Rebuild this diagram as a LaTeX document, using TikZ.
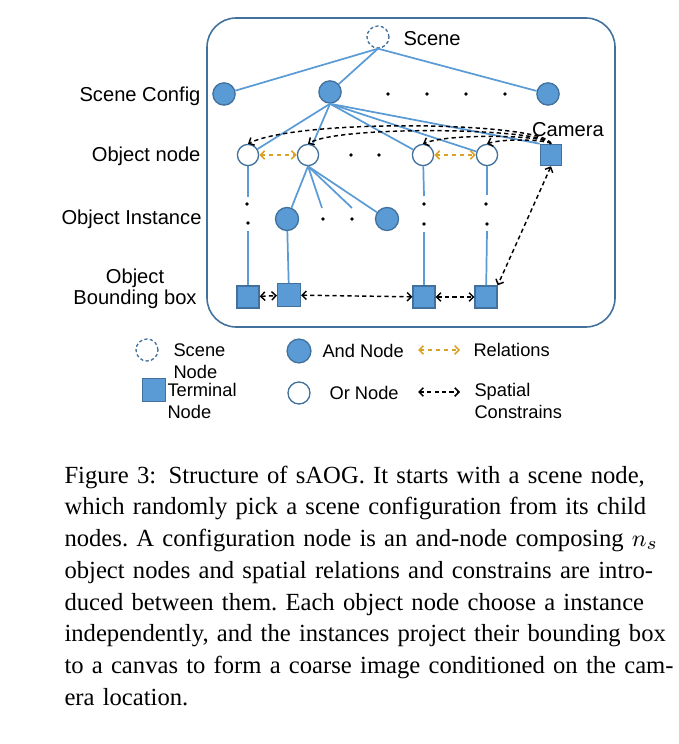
\documentclass[tikz,border=0pt]{standalone}
\usepackage{fontspec}
\setmainfont{Liberation Serif}
\newfontfamily\diagfont{Liberation Sans}
\usetikzlibrary{arrows.meta,positioning}

\definecolor{andfill}{RGB}{91,155,213}
\definecolor{nodeedge}{RGB}{65,113,156}
\definecolor{treeline}{RGB}{91,155,213}
\definecolor{relcolor}{RGB}{218,163,38}
\newlength\capw
\setlength\capw{225.7pt}

\begin{document}
\begin{tikzpicture}[x=0.3774pt,y=-0.3774pt,
  font=\diagfont\fontsize{7.6}{8}\selectfont,
  >={Straight Barb[length=1.6pt,width=3.2pt]},
  andnode/.style={circle, draw=nodeedge, fill=andfill, line width=0.5pt, minimum size=8.4pt, inner sep=0pt},
  ornode/.style={circle, draw=nodeedge, fill=white, line width=0.5pt, minimum size=8pt, inner sep=0pt},
  scenenode/.style={circle, draw=nodeedge, dash pattern=on 1.2pt off 0.9pt, line width=0.5pt, minimum size=8.3pt, inner sep=0pt},
  termnode/.style={rectangle, draw=nodeedge, fill=andfill, line width=0.5pt, minimum size=8.3pt, inner sep=0pt},
  dotnode/.style={circle, fill=black, minimum size=1.4pt, inner sep=0pt},
  lbl/.style={inner sep=0pt},
  legendlbl/.style={inner sep=0pt, anchor=west, align=left, font=\diagfont\fontsize{6.9}{8.3}\selectfont},
  treeedge/.style={treeline, line width=0.65pt},
  spatial/.style={black, line width=0.55pt, dash pattern=on 1.6pt off 1.2pt},
  relation/.style={relcolor, line width=0.6pt, dash pattern=on 1.6pt off 1.4pt}]

\path[use as bounding box] (0,0) rectangle (678,744);

% frame of the sAOG
\draw[nodeedge, line width=0.6pt, rounded corners=11pt] (207,18) rectangle (615,327);

% scene and configurations
\node[scenenode] (scene) at (378,37) {};
\node[lbl, anchor=west] (scenelbl) at (403,39) {Scene};
\node[andnode] (cfg1) at (224,94) {};
\node[andnode] (cfg2) at (330,92) {};
\node[andnode] (cfg3) at (548,94) {};
\foreach \x [count=\i] in {388,427,466,505}
  \node[dotnode] (cfgdot\i) at (\x,94) {};

% object nodes and camera
\node[ornode] (obj1) at (248,155) {};
\node[ornode] (obj2) at (308,155) {};
\node[ornode] (obj3) at (423,155) {};
\node[ornode] (obj4) at (487,155) {};
\node[termnode, minimum size=8pt] (cam) at (551,155) {};
\node[lbl] (camlbl) at (568,130) {Camera};
\node[dotnode] (objdot1) at (351,155) {};
\node[dotnode] (objdot2) at (379,155) {};

% instances
\node[andnode, minimum size=8.7pt] (inst1) at (287,219) {};
\node[andnode, minimum size=8.7pt] (inst2) at (387,219) {};
\node[dotnode] (instdot1) at (323,219) {};
\node[dotnode] (instdot2) at (352,219) {};
\node[dotnode] (vdot1) at (247,204) {};
\node[dotnode] (vdot2) at (248,223) {};
\node[dotnode] (vdot3) at (424,204) {};
\node[dotnode] (vdot4) at (424,224) {};
\node[dotnode] (vdot5) at (486,204) {};
\node[dotnode] (vdot6) at (487,224) {};
\coordinate (obj1a) at (248,197);
\coordinate (obj1b) at (248,231);
\coordinate (obj3a) at (424,196);
\coordinate (obj3b) at (424,232);
\coordinate (obj4a) at (487,195);
\coordinate (obj4b) at (487,231);
\coordinate (fan1) at (322,208);
\coordinate (fan2) at (352,208);

% bounding boxes
\node[termnode] (box1) at (248,297) {};
\node[termnode, minimum size=8.6pt] (box2) at (289,295) {};
\node[termnode] (box3) at (424,297) {};
\node[termnode] (box4) at (486,297) {};

% tree edges
\draw[treeedge] (scene.south) -- (cfg1);
\draw[treeedge] (scene.south) -- (cfg2);
\draw[treeedge] (scene.south) -- (cfg3);
\draw[treeedge] (cfg2.south) -- (obj1);
\draw[treeedge] (cfg2.south) -- (obj2);
\draw[treeedge] (cfg2.south) -- (obj3);
\draw[treeedge] (cfg2.south) -- (obj4);
\draw[treeedge] (cfg2.south) -- (cam.north west);
\draw[treeedge] (obj1) -- (obj1a);
\draw[treeedge] (obj1b) -- (box1);
\draw[treeedge] (obj2.south) -- (inst1);
\draw[treeedge] (obj2.south) -- (fan1);
\draw[treeedge] (obj2.south) -- (fan2);
\draw[treeedge] (obj2.south) -- (inst2);
\draw[treeedge] (inst1) -- (box2);
\draw[treeedge] (obj3) -- (obj3a);
\draw[treeedge] (obj3b) -- (box3);
\draw[treeedge] (obj4) -- (obj4a);
\draw[treeedge] (obj4b) -- (box4);

% relations and spatial constrains
\draw[relation,<->] (obj1) -- (obj2);
\draw[relation,<->] (obj3) -- (obj4);
\draw[spatial,->] (cam.north) .. controls (545,122) and (300,118) .. (obj1.north);
\draw[spatial,->] (cam.north) .. controls (545,128) and (340,125) .. (obj2.north);
\draw[spatial,->] (cam.north) .. controls (548,135) and (450,133) .. (obj3.north);
\draw[spatial,->] (cam.north) .. controls (548,140) and (505,138) .. (obj4.north);
\draw[spatial,<->] (cam.south) -- (box4.north east);
\draw[spatial,<->] (box1) -- (box2);
\draw[spatial,<->] (box2) -- (box3);
\draw[spatial,<->] (box3) -- (box4);

% level names
\node[lbl, anchor=east] (lvlcfg) at (201,96) {Scene Config};
\node[lbl, anchor=east] (lvlobj) at (201,156) {Object node};
\node[lbl, anchor=east] (lvlinst) at (202,219) {Object Instance};
\node[lbl, align=center] (lvlbox) at (135,289) {Object\\Bounding box};

% legend
\node[scenenode] (lgscene) at (147,350) {};
\node[legendlbl] (lgscenelbl) at (173,361) {Scene\\Node};
\node[termnode, minimum size=8.7pt] (lgterm) at (154,390) {};
\node[legendlbl] (lgtermlbl) at (167,400.5) {Terminal\\Node};
\node[andnode, minimum size=9pt] (lgand) at (299,351) {};
\node[legendlbl] (lgandlbl) at (322,351) {And Node};
\node[ornode, minimum size=8.3pt] (lgor) at (299,393) {};
\node[legendlbl] (lgorlbl) at (329,393) {Or Node};
\coordinate (lgrelA) at (418,350);
\coordinate (lgrelB) at (460,350);
\draw[relation,<->] (lgrelA) -- (lgrelB);
\node[legendlbl] (lgrellbl) at (473,350) {Relations};
\coordinate (lgspA) at (418,392);
\coordinate (lgspB) at (460,392);
\draw[spatial,<->] (lgspA) -- (lgspB);
\node[legendlbl] (lgsplbl) at (474,401) {Spatial\\Constrains};

% caption
\node[anchor=base west, inner sep=0pt, text width=\capw, font=\rmfamily\fontsize{9.3}{12}\selectfont\frenchspacing] (caption) at (64,483) {%
\makebox[\capw][s]{Figure 3:\enspace Structure of sAOG. It starts with a scene node,}\par
\makebox[\capw][s]{which randomly pick a scene configuration from its child}\par
\makebox[\capw][s]{nodes. A configuration node is an and-node composing $n_s$}\par
\makebox[\capw][s]{object nodes and spatial relations and constrains are intro-}\par
\makebox[\capw][s]{duced between them. Each object node choose a instance}\par
\makebox[\capw][s]{independently, and the instances project their bounding box}\par
\makebox[\capw][s]{to a canvas to form a coarse image conditioned on the cam-}\par
era location.};
\end{tikzpicture}
\end{document}
